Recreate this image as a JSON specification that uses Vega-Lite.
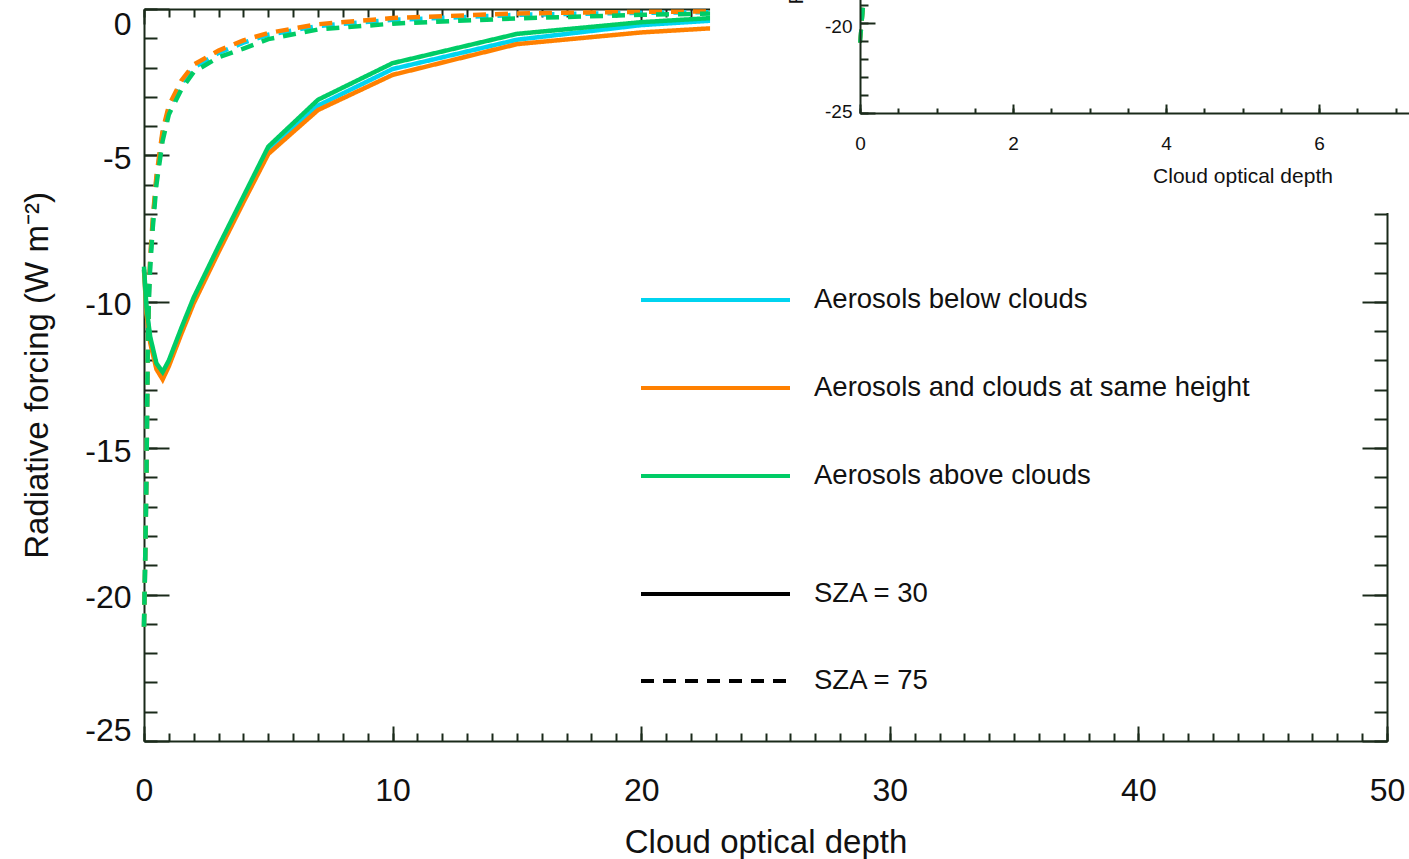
{
  "$schema": "https://vega.github.io/schema/vega-lite/v6.json",
  "width": 1243,
  "height": 732,
  "autosize": {"type": "none"},
  "padding": {"left": 144, "top": 9, "right": 22, "bottom": 118},
  "background": "white",
  "config": {
    "view": {"stroke": null},
    "font": "Liberation Sans",
    "axis": {
      "labelFont": "Liberation Sans",
      "titleFont": "Liberation Sans",
      "titleFontWeight": "normal",
      "labelColor": "#111",
      "titleColor": "#111",
      "domainColor": "#1a2a1a",
      "tickColor": "#1a2a1a",
      "domainWidth": 2,
      "tickWidth": 2,
      "grid": false,
      "labelFlush": false,
      "labelOverlap": false,
      "labelBound": false
    },
    "legend": {"symbolBaseStrokeColor": "#000"}
  },
  "data": {
    "values": [
      {"tau": 0, "rf": -8.9, "position": "Aerosols below clouds", "sza": "SZA = 30"},
      {"tau": 0.1, "rf": -10.3, "position": "Aerosols below clouds", "sza": "SZA = 30"},
      {"tau": 0.25, "rf": -11.3, "position": "Aerosols below clouds", "sza": "SZA = 30"},
      {"tau": 0.5, "rf": -12.2, "position": "Aerosols below clouds", "sza": "SZA = 30"},
      {"tau": 0.75, "rf": -12.5, "position": "Aerosols below clouds", "sza": "SZA = 30"},
      {"tau": 1, "rf": -12.1, "position": "Aerosols below clouds", "sza": "SZA = 30"},
      {"tau": 1.5, "rf": -11.0, "position": "Aerosols below clouds", "sza": "SZA = 30"},
      {"tau": 2, "rf": -9.95, "position": "Aerosols below clouds", "sza": "SZA = 30"},
      {"tau": 3, "rf": -8.2, "position": "Aerosols below clouds", "sza": "SZA = 30"},
      {"tau": 4, "rf": -6.5, "position": "Aerosols below clouds", "sza": "SZA = 30"},
      {"tau": 5, "rf": -4.85, "position": "Aerosols below clouds", "sza": "SZA = 30"},
      {"tau": 7, "rf": -3.3, "position": "Aerosols below clouds", "sza": "SZA = 30"},
      {"tau": 10, "rf": -2.05, "position": "Aerosols below clouds", "sza": "SZA = 30"},
      {"tau": 15, "rf": -1.05, "position": "Aerosols below clouds", "sza": "SZA = 30"},
      {"tau": 20, "rf": -0.55, "position": "Aerosols below clouds", "sza": "SZA = 30"},
      {"tau": 25, "rf": -0.28, "position": "Aerosols below clouds", "sza": "SZA = 30"},
      {"tau": 30, "rf": -0.18, "position": "Aerosols below clouds", "sza": "SZA = 30"},
      {"tau": 40, "rf": -0.08, "position": "Aerosols below clouds", "sza": "SZA = 30"},
      {"tau": 50, "rf": -0.04, "position": "Aerosols below clouds", "sza": "SZA = 30"},

      {"tau": 0, "rf": -21.1, "position": "Aerosols below clouds", "sza": "SZA = 75"},
      {"tau": 0.05, "rf": -18.7, "position": "Aerosols below clouds", "sza": "SZA = 75"},
      {"tau": 0.1, "rf": -15.8, "position": "Aerosols below clouds", "sza": "SZA = 75"},
      {"tau": 0.15, "rf": -11.6, "position": "Aerosols below clouds", "sza": "SZA = 75"},
      {"tau": 0.2, "rf": -9.7, "position": "Aerosols below clouds", "sza": "SZA = 75"},
      {"tau": 0.25, "rf": -8.6, "position": "Aerosols below clouds", "sza": "SZA = 75"},
      {"tau": 0.35, "rf": -7.3, "position": "Aerosols below clouds", "sza": "SZA = 75"},
      {"tau": 0.5, "rf": -5.8, "position": "Aerosols below clouds", "sza": "SZA = 75"},
      {"tau": 0.75, "rf": -4.25, "position": "Aerosols below clouds", "sza": "SZA = 75"},
      {"tau": 1, "rf": -3.4, "position": "Aerosols below clouds", "sza": "SZA = 75"},
      {"tau": 1.5, "rf": -2.55, "position": "Aerosols below clouds", "sza": "SZA = 75"},
      {"tau": 2, "rf": -2.0, "position": "Aerosols below clouds", "sza": "SZA = 75"},
      {"tau": 3, "rf": -1.5, "position": "Aerosols below clouds", "sza": "SZA = 75"},
      {"tau": 4, "rf": -1.15, "position": "Aerosols below clouds", "sza": "SZA = 75"},
      {"tau": 5, "rf": -0.88, "position": "Aerosols below clouds", "sza": "SZA = 75"},
      {"tau": 7, "rf": -0.58, "position": "Aerosols below clouds", "sza": "SZA = 75"},
      {"tau": 10, "rf": -0.37, "position": "Aerosols below clouds", "sza": "SZA = 75"},
      {"tau": 15, "rf": -0.2, "position": "Aerosols below clouds", "sza": "SZA = 75"},
      {"tau": 20, "rf": -0.13, "position": "Aerosols below clouds", "sza": "SZA = 75"},
      {"tau": 25, "rf": -0.09, "position": "Aerosols below clouds", "sza": "SZA = 75"},
      {"tau": 30, "rf": -0.07, "position": "Aerosols below clouds", "sza": "SZA = 75"},
      {"tau": 40, "rf": -0.04, "position": "Aerosols below clouds", "sza": "SZA = 75"},
      {"tau": 50, "rf": -0.03, "position": "Aerosols below clouds", "sza": "SZA = 75"},

      {"tau": 0, "rf": -8.9, "position": "Aerosols and clouds at same height", "sza": "SZA = 30"},
      {"tau": 0.1, "rf": -10.4, "position": "Aerosols and clouds at same height", "sza": "SZA = 30"},
      {"tau": 0.25, "rf": -11.4, "position": "Aerosols and clouds at same height", "sza": "SZA = 30"},
      {"tau": 0.5, "rf": -12.3, "position": "Aerosols and clouds at same height", "sza": "SZA = 30"},
      {"tau": 0.75, "rf": -12.65, "position": "Aerosols and clouds at same height", "sza": "SZA = 30"},
      {"tau": 1, "rf": -12.2, "position": "Aerosols and clouds at same height", "sza": "SZA = 30"},
      {"tau": 1.5, "rf": -11.1, "position": "Aerosols and clouds at same height", "sza": "SZA = 30"},
      {"tau": 2, "rf": -10.05, "position": "Aerosols and clouds at same height", "sza": "SZA = 30"},
      {"tau": 3, "rf": -8.3, "position": "Aerosols and clouds at same height", "sza": "SZA = 30"},
      {"tau": 4, "rf": -6.6, "position": "Aerosols and clouds at same height", "sza": "SZA = 30"},
      {"tau": 5, "rf": -4.95, "position": "Aerosols and clouds at same height", "sza": "SZA = 30"},
      {"tau": 7, "rf": -3.45, "position": "Aerosols and clouds at same height", "sza": "SZA = 30"},
      {"tau": 10, "rf": -2.25, "position": "Aerosols and clouds at same height", "sza": "SZA = 30"},
      {"tau": 15, "rf": -1.2, "position": "Aerosols and clouds at same height", "sza": "SZA = 30"},
      {"tau": 20, "rf": -0.8, "position": "Aerosols and clouds at same height", "sza": "SZA = 30"},
      {"tau": 25, "rf": -0.55, "position": "Aerosols and clouds at same height", "sza": "SZA = 30"},
      {"tau": 30, "rf": -0.42, "position": "Aerosols and clouds at same height", "sza": "SZA = 30"},
      {"tau": 40, "rf": -0.3, "position": "Aerosols and clouds at same height", "sza": "SZA = 30"},
      {"tau": 50, "rf": -0.22, "position": "Aerosols and clouds at same height", "sza": "SZA = 30"},

      {"tau": 0, "rf": -21.1, "position": "Aerosols and clouds at same height", "sza": "SZA = 75"},
      {"tau": 0.05, "rf": -18.7, "position": "Aerosols and clouds at same height", "sza": "SZA = 75"},
      {"tau": 0.1, "rf": -15.8, "position": "Aerosols and clouds at same height", "sza": "SZA = 75"},
      {"tau": 0.15, "rf": -11.5, "position": "Aerosols and clouds at same height", "sza": "SZA = 75"},
      {"tau": 0.2, "rf": -9.6, "position": "Aerosols and clouds at same height", "sza": "SZA = 75"},
      {"tau": 0.25, "rf": -8.5, "position": "Aerosols and clouds at same height", "sza": "SZA = 75"},
      {"tau": 0.35, "rf": -7.2, "position": "Aerosols and clouds at same height", "sza": "SZA = 75"},
      {"tau": 0.5, "rf": -5.7, "position": "Aerosols and clouds at same height", "sza": "SZA = 75"},
      {"tau": 0.75, "rf": -4.15, "position": "Aerosols and clouds at same height", "sza": "SZA = 75"},
      {"tau": 1, "rf": -3.3, "position": "Aerosols and clouds at same height", "sza": "SZA = 75"},
      {"tau": 1.5, "rf": -2.45, "position": "Aerosols and clouds at same height", "sza": "SZA = 75"},
      {"tau": 2, "rf": -1.9, "position": "Aerosols and clouds at same height", "sza": "SZA = 75"},
      {"tau": 3, "rf": -1.42, "position": "Aerosols and clouds at same height", "sza": "SZA = 75"},
      {"tau": 4, "rf": -1.07, "position": "Aerosols and clouds at same height", "sza": "SZA = 75"},
      {"tau": 5, "rf": -0.82, "position": "Aerosols and clouds at same height", "sza": "SZA = 75"},
      {"tau": 7, "rf": -0.52, "position": "Aerosols and clouds at same height", "sza": "SZA = 75"},
      {"tau": 10, "rf": -0.31, "position": "Aerosols and clouds at same height", "sza": "SZA = 75"},
      {"tau": 15, "rf": -0.15, "position": "Aerosols and clouds at same height", "sza": "SZA = 75"},
      {"tau": 20, "rf": -0.1, "position": "Aerosols and clouds at same height", "sza": "SZA = 75"},
      {"tau": 25, "rf": -0.07, "position": "Aerosols and clouds at same height", "sza": "SZA = 75"},
      {"tau": 30, "rf": -0.05, "position": "Aerosols and clouds at same height", "sza": "SZA = 75"},
      {"tau": 40, "rf": -0.03, "position": "Aerosols and clouds at same height", "sza": "SZA = 75"},
      {"tau": 50, "rf": -0.02, "position": "Aerosols and clouds at same height", "sza": "SZA = 75"},

      {"tau": 0, "rf": -8.8, "position": "Aerosols above clouds", "sza": "SZA = 30"},
      {"tau": 0.1, "rf": -10.2, "position": "Aerosols above clouds", "sza": "SZA = 30"},
      {"tau": 0.25, "rf": -11.2, "position": "Aerosols above clouds", "sza": "SZA = 30"},
      {"tau": 0.5, "rf": -12.1, "position": "Aerosols above clouds", "sza": "SZA = 30"},
      {"tau": 0.75, "rf": -12.4, "position": "Aerosols above clouds", "sza": "SZA = 30"},
      {"tau": 1, "rf": -12.0, "position": "Aerosols above clouds", "sza": "SZA = 30"},
      {"tau": 1.5, "rf": -10.9, "position": "Aerosols above clouds", "sza": "SZA = 30"},
      {"tau": 2, "rf": -9.85, "position": "Aerosols above clouds", "sza": "SZA = 30"},
      {"tau": 3, "rf": -8.1, "position": "Aerosols above clouds", "sza": "SZA = 30"},
      {"tau": 4, "rf": -6.4, "position": "Aerosols above clouds", "sza": "SZA = 30"},
      {"tau": 5, "rf": -4.7, "position": "Aerosols above clouds", "sza": "SZA = 30"},
      {"tau": 7, "rf": -3.1, "position": "Aerosols above clouds", "sza": "SZA = 30"},
      {"tau": 10, "rf": -1.85, "position": "Aerosols above clouds", "sza": "SZA = 30"},
      {"tau": 15, "rf": -0.85, "position": "Aerosols above clouds", "sza": "SZA = 30"},
      {"tau": 20, "rf": -0.45, "position": "Aerosols above clouds", "sza": "SZA = 30"},
      {"tau": 25, "rf": -0.2, "position": "Aerosols above clouds", "sza": "SZA = 30"},
      {"tau": 30, "rf": -0.1, "position": "Aerosols above clouds", "sza": "SZA = 30"},
      {"tau": 40, "rf": -0.02, "position": "Aerosols above clouds", "sza": "SZA = 30"},
      {"tau": 50, "rf": 0.02, "position": "Aerosols above clouds", "sza": "SZA = 30"},

      {"tau": 0, "rf": -21.1, "position": "Aerosols above clouds", "sza": "SZA = 75"},
      {"tau": 0.05, "rf": -18.7, "position": "Aerosols above clouds", "sza": "SZA = 75"},
      {"tau": 0.1, "rf": -15.8, "position": "Aerosols above clouds", "sza": "SZA = 75"},
      {"tau": 0.15, "rf": -11.6, "position": "Aerosols above clouds", "sza": "SZA = 75"},
      {"tau": 0.2, "rf": -9.8, "position": "Aerosols above clouds", "sza": "SZA = 75"},
      {"tau": 0.25, "rf": -8.8, "position": "Aerosols above clouds", "sza": "SZA = 75"},
      {"tau": 0.35, "rf": -7.5, "position": "Aerosols above clouds", "sza": "SZA = 75"},
      {"tau": 0.5, "rf": -6.0, "position": "Aerosols above clouds", "sza": "SZA = 75"},
      {"tau": 0.75, "rf": -4.5, "position": "Aerosols above clouds", "sza": "SZA = 75"},
      {"tau": 1, "rf": -3.6, "position": "Aerosols above clouds", "sza": "SZA = 75"},
      {"tau": 1.5, "rf": -2.75, "position": "Aerosols above clouds", "sza": "SZA = 75"},
      {"tau": 2, "rf": -2.15, "position": "Aerosols above clouds", "sza": "SZA = 75"},
      {"tau": 3, "rf": -1.65, "position": "Aerosols above clouds", "sza": "SZA = 75"},
      {"tau": 4, "rf": -1.35, "position": "Aerosols above clouds", "sza": "SZA = 75"},
      {"tau": 5, "rf": -1.03, "position": "Aerosols above clouds", "sza": "SZA = 75"},
      {"tau": 7, "rf": -0.7, "position": "Aerosols above clouds", "sza": "SZA = 75"},
      {"tau": 10, "rf": -0.5, "position": "Aerosols above clouds", "sza": "SZA = 75"},
      {"tau": 15, "rf": -0.32, "position": "Aerosols above clouds", "sza": "SZA = 75"},
      {"tau": 20, "rf": -0.2, "position": "Aerosols above clouds", "sza": "SZA = 75"},
      {"tau": 25, "rf": -0.12, "position": "Aerosols above clouds", "sza": "SZA = 75"},
      {"tau": 30, "rf": -0.08, "position": "Aerosols above clouds", "sza": "SZA = 75"},
      {"tau": 40, "rf": -0.05, "position": "Aerosols above clouds", "sza": "SZA = 75"},
      {"tau": 50, "rf": -0.03, "position": "Aerosols above clouds", "sza": "SZA = 75"}
    ]
  },
  "resolve": {
    "scale": {"x": "independent", "y": "independent"},
    "axis": {"x": "independent", "y": "independent"}
  },
  "layer": [
    {
      "mark": {"type": "line", "strokeWidth": 4.5},
      "encoding": {
        "x": {
          "field": "tau", "type": "quantitative",
          "scale": {"domain": [0, 50], "nice": false, "zero": false},
          "axis": {"orient": "bottom", "values": [0, 10, 20, 30, 40, 50], "tickSize": -15, "labelPadding": 49, "labelFontSize": 32, "title": "Cloud optical depth", "titleFontSize": 33, "titlePadding": 20, "domain": true}
        },
        "y": {
          "field": "rf", "type": "quantitative",
          "scale": {"domain": [-25, 0], "nice": false, "zero": false},
          "axis": {"orient": "left", "values": [-25, -20, -15, -10, -5, 0], "tickSize": -25, "labelPadding": 38, "labelFontSize": 32, "labelFlush": true, "labelFlushOffset": 3, "labelOffset": 3, "labelExpr": "datum.value < 0 ? '-' + (-datum.value) : '' + datum.value", "title": "Radiative forcing (W m⁻²)", "titleFontSize": 33, "titlePadding": 30, "domain": true}
        },
        "color": {
          "field": "position", "type": "nominal",
          "scale": {"domain": ["Aerosols below clouds", "Aerosols and clouds at same height", "Aerosols above clouds"], "range": ["#00d4f0", "#ff8000", "#00cc66"]},
          "legend": {"orient": "none", "legendX": 495, "legendY": 247, "title": null, "symbolType": "stroke", "symbolSize": 22201, "symbolStrokeWidth": 4, "clipHeight": 88, "rowPadding": 0, "labelOffset": 22, "labelFontSize": 27.5, "labelFont": "Liberation Sans", "labelColor": "#111", "padding": 0, "labelLimit": 0, "symbolOffset": 0}
        },
        "strokeDash": {
          "field": "sza", "type": "nominal",
          "scale": {"domain": ["SZA = 30", "SZA = 75"], "range": [[1, 0], [13, 9]]},
          "legend": {"orient": "none", "legendX": 495, "legendY": 541.5, "title": null, "symbolType": "stroke", "symbolSize": 22201, "symbolStrokeWidth": 4, "symbolStrokeColor": "#000", "clipHeight": 87, "rowPadding": 0, "labelOffset": 22, "labelFontSize": 27.5, "labelFont": "Liberation Sans", "labelColor": "#111", "padding": 0, "labelLimit": 0, "symbolOffset": 0}
        }
      }
    },
    {
      "mark": {"type": "line", "strokeOpacity": 0},
      "encoding": {
        "x": {
          "field": "tau", "type": "quantitative",
          "scale": {"domain": [0, 50], "nice": false, "zero": false},
          "axis": {"orient": "bottom", "values": [0,1,2,3,4,5,6,7,8,9,10,11,12,13,14,15,16,17,18,19,20,21,22,23,24,25,26,27,28,29,30,31,32,33,34,35,36,37,38,39,40,41,42,43,44,45,46,47,48,49,50], "tickSize": -8, "labels": false, "domain": false, "title": null}
        },
        "y": {
          "field": "rf", "type": "quantitative",
          "scale": {"domain": [-25, 0], "nice": false, "zero": false},
          "axis": {"orient": "left", "values": [-25,-24,-23,-22,-21,-20,-19,-18,-17,-16,-15,-14,-13,-12,-11,-10,-9,-8,-7,-6,-5,-4,-3,-2,-1,0], "tickSize": -13, "labels": false, "domain": false, "title": null}
        }
      }
    },
    {
      "mark": {"type": "line", "strokeOpacity": 0},
      "encoding": {
        "x": {
          "field": "tau", "type": "quantitative",
          "scale": {"domain": [0, 50], "nice": false, "zero": false},
          "axis": {"orient": "top", "values": [0, 10, 20, 30, 40, 50], "tickSize": -15, "labels": false, "domain": true, "title": null}
        },
        "y": {
          "field": "rf", "type": "quantitative",
          "scale": {"domain": [-25, 0], "nice": false, "zero": false},
          "axis": {"orient": "right", "values": [-25, -20, -15, -10, -5, 0], "tickSize": -25, "labels": false, "domain": true, "title": null}
        }
      }
    },
    {
      "mark": {"type": "line", "strokeOpacity": 0},
      "encoding": {
        "x": {
          "field": "tau", "type": "quantitative",
          "scale": {"domain": [0, 50], "nice": false, "zero": false},
          "axis": {"orient": "top", "values": [0,1,2,3,4,5,6,7,8,9,10,11,12,13,14,15,16,17,18,19,20,21,22,23,24,25,26,27,28,29,30,31,32,33,34,35,36,37,38,39,40,41,42,43,44,45,46,47,48,49,50], "tickSize": -8, "labels": false, "domain": false, "title": null}
        },
        "y": {
          "field": "rf", "type": "quantitative",
          "scale": {"domain": [-25, 0], "nice": false, "zero": false},
          "axis": {"orient": "right", "values": [-25,-24,-23,-22,-21,-20,-19,-18,-17,-16,-15,-14,-13,-12,-11,-10,-9,-8,-7,-6,-5,-4,-3,-2,-1,0], "tickSize": -13, "labels": false, "domain": false, "title": null}
        }
      }
    },
    {
      "data": {"values": [{}]},
      "mark": {"type": "rect", "fill": "white"},
      "encoding": {
        "x": {"datum": 22.77, "type": "quantitative", "scale": {"domain": [0, 50], "nice": false, "zero": false}, "axis": null},
        "x2": {"datum": 56},
        "y": {"datum": -6.97, "type": "quantitative", "scale": {"domain": [-25, 0], "nice": false, "zero": false}, "axis": null},
        "y2": {"datum": 2}
      }
    },
    {
      "mark": {"type": "line", "strokeWidth": 4},
      "encoding": {
        "x": {
          "field": "tau", "type": "quantitative",
          "scale": {"domain": [0, 10], "range": [716, 1481], "nice": false, "zero": false},
          "axis": {"orient": "bottom", "offset": -628, "zindex": 1, "values": [0, 2, 4, 6], "tickSize": -9, "labelPadding": 30, "labelFontSize": 19, "title": "Cloud optical depth", "titleFontSize": 21, "titlePadding": 12, "domain": true}
        },
        "y": {
          "field": "rf", "type": "quantitative",
          "scale": {"domain": [-25, 0], "range": [104, -347.5], "nice": false, "zero": false},
          "axis": {"orient": "left", "offset": -716, "zindex": 1, "values": [-25, -20, -15, -10, -5, 0], "tickSize": -15, "labelPadding": 23, "labelFontSize": 19, "labelFlush": true, "labelFlushOffset": 4, "labelOffset": 4, "labelExpr": "datum.value <= -20 ? '-' + (-datum.value) : ''", "title": "Radiative forcing (W m⁻²)", "titleFontSize": 21, "titlePadding": 18, "domain": true}
        },
        "color": {"field": "position", "type": "nominal"},
        "strokeDash": {"field": "sza", "type": "nominal"}
      }
    },
    {
      "mark": {"type": "line", "strokeOpacity": 0},
      "encoding": {
        "x": {
          "field": "tau", "type": "quantitative",
          "scale": {"domain": [0, 10], "range": [716, 1481], "nice": false, "zero": false},
          "axis": {"orient": "bottom", "offset": -628, "zindex": 1, "values": [0,0.5,1,1.5,2,2.5,3,3.5,4,4.5,5,5.5,6,6.5,7,7.5,8,8.5,9,9.5,10], "tickSize": -5, "labels": false, "domain": false, "title": null}
        },
        "y": {
          "field": "rf", "type": "quantitative",
          "scale": {"domain": [-25, 0], "range": [104, -347.5], "nice": false, "zero": false},
          "axis": {"orient": "left", "offset": -716, "zindex": 1, "values": [-25,-24,-23,-22,-21,-20,-19,-18,-17,-16,-15,-14,-13,-12,-11,-10,-9,-8,-7,-6,-5,-4,-3,-2,-1,0], "tickSize": -8, "labels": false, "domain": false, "title": null}
        }
      }
    }
  ]
}
